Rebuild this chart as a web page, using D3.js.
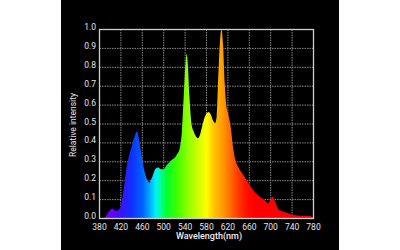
<!DOCTYPE html>
<html>
<head>
<meta charset="utf-8">
<script src="https://cdn.jsdelivr.net/npm/d3@7"></script>
<style>
  html, body { margin: 0; padding: 0; background: #fff; }
  svg { display: block; font-family: Roboto, "Noto Sans", sans-serif; }
</style>
</head>
<body>
<div id="chart"></div>
<script>
// spectrum (nm, relative intensity)
const wavelengths = [380, 390, 396, 404, 408, 412, 417, 421, 426, 430, 435, 440, 445, 450, 455, 460, 465, 470, 473, 477,
  481, 485, 490, 495, 500, 505, 510, 515, 520, 525, 530, 534, 538, 541, 543, 545, 548, 552, 556, 560,
  564, 568, 572, 576, 580, 584, 588, 592, 596, 599, 602, 605, 608, 611, 614, 617, 620, 625, 630, 635,
  640, 650, 660, 670, 680, 690, 695, 700, 704, 708, 712, 716, 720, 730, 740, 750, 760, 770, 780]
const intensity = [0.0, 0.005, 0.03, 0.053, 0.045, 0.04, 0.05, 0.08, 0.17, 0.26, 0.33, 0.38, 0.43, 0.46, 0.40, 0.31, 0.24, 0.20, 0.19, 0.21,
  0.24, 0.265, 0.27, 0.26, 0.26, 0.28, 0.295, 0.31, 0.32, 0.34, 0.37, 0.46, 0.68, 0.83, 0.87, 0.82, 0.65, 0.50, 0.46, 0.435,
  0.425, 0.445, 0.49, 0.53, 0.555, 0.563, 0.55, 0.52, 0.505, 0.54, 0.75, 0.93, 1.0, 0.92, 0.72, 0.60, 0.56, 0.49, 0.37, 0.30,
  0.27, 0.225, 0.18, 0.14, 0.115, 0.093, 0.08, 0.10, 0.115, 0.09, 0.06, 0.045, 0.04, 0.03, 0.02, 0.016, 0.014, 0.014, 0.005]

const xTicks = [380, 420, 460, 500, 540, 580, 620, 660, 700, 740, 780]
const yTicks = [0, 0.1, 0.2, 0.3, 0.4, 0.5, 0.6, 0.7, 0.8, 0.9, 1.0]

// colour of light along the x axis
const colourStops = [
  [380, "#7a00e0"], [400, "#6a00ff"], [420, "#3a10ff"], [440, "#1030ff"], [460, "#0060ff"],
  [475, "#00b0ff"], [485, "#00f0ff"], [495, "#00ff90"], [505, "#00ff30"], [525, "#40ff00"],
  [545, "#90ff00"], [565, "#d0ff00"], [580, "#ffff00"], [595, "#ffc000"], [610, "#ff9a00"],
  [625, "#ff6a00"], [640, "#ff3800"], [655, "#ff1000"], [670, "#ff0000"], [780, "#ff0000"]
]

const W = 400, H = 250
const margin = { left: 99.5, right: 86.5, top: 29.5, bottom: 31.5 }

const svg = d3.select("#chart").append("svg")
  .attr("width", W).attr("height", H)

// black panel
svg.append("rect")
  .attr("x", 61).attr("y", 0)
  .attr("width", 278).attr("height", H)
  .attr("fill", "#000")

const x = d3.scaleLinear().domain([380, 780]).range([margin.left, W - margin.right])
const y = d3.scaleLinear().domain([0, 1]).range([H - margin.bottom, margin.top])

// gradient
const grad = svg.append("defs").append("linearGradient")
  .attr("id", "spec")
  .attr("gradientUnits", "userSpaceOnUse")
  .attr("x1", x(380)).attr("x2", x(780))
  .attr("y1", 0).attr("y2", 0)
grad.selectAll("stop")
  .data(colourStops)
  .join("stop")
  .attr("offset", d => (d[0] - 380) / 400)
  .attr("stop-color", d => d[1])

// grid
const grid = svg.append("g")
grid.selectAll(".gx")
  .data(xTicks.slice(1, -1))
  .join("line")
  .attr("x1", d => x(d)).attr("x2", d => x(d))
  .attr("y1", y(0)).attr("y2", y(1))
  .attr("stroke", "#8a8a8a")
  .attr("stroke-width", 1)
  .attr("stroke-dasharray", "1.5,1")
grid.selectAll(".gy")
  .data(yTicks.slice(1, -1))
  .join("line")
  .attr("x1", x(380)).attr("x2", x(780))
  .attr("y1", d => y(d)).attr("y2", d => y(d))
  .attr("stroke", "#8a8a8a")
  .attr("stroke-width", 1)
  .attr("stroke-dasharray", "1.5,1")

// spectrum
const pts = wavelengths.map((w, i) => [w, intensity[i]])
const area = d3.area()
  .x(d => x(d[0]))
  .y0(y(0))
  .y1(d => y(d[1]))
  .curve(d3.curveMonotoneX)
svg.append("path")
  .datum(pts)
  .attr("d", area)
  .attr("fill", "url(#spec)")

// frame
svg.append("rect")
  .attr("x", x(380)).attr("y", y(1))
  .attr("width", x(780) - x(380))
  .attr("height", y(0) - y(1))
  .attr("fill", "none")
  .attr("stroke", "#cfcfcf")
  .attr("stroke-width", 1.3)

// tick labels
svg.append("g").selectAll("text")
  .data(yTicks)
  .join("text")
  .attr("x", 96)
  .attr("y", d => y(d) + 0.5)
  .attr("text-anchor", "end")
  .attr("font-size", "8.5px")
  .attr("fill", "#e6e6e6")
  .text(d => d.toFixed(1))

svg.append("g").selectAll("text")
  .data(xTicks)
  .join("text")
  .attr("x", d => x(d))
  .attr("y", 229.5)
  .attr("text-anchor", "middle")
  .attr("font-size", "8.5px")
  .attr("fill", "#e6e6e6")
  .text(d => d)

// axis titles
svg.append("text")
  .attr("x", 209)
  .attr("y", 238.5)
  .attr("text-anchor", "middle")
  .attr("font-size", "9px")
  .attr("font-weight", 500)
  .attr("fill", "#eeeeee")
  .text("Wavelength(nm)")

svg.append("text")
  .attr("transform", `translate(76,125) rotate(-90)`)
  .attr("text-anchor", "middle")
  .attr("font-size", "8.5px")
  .attr("fill", "#e6e6e6")
  .text("Relative intensity")
</script>
</body>
</html>
